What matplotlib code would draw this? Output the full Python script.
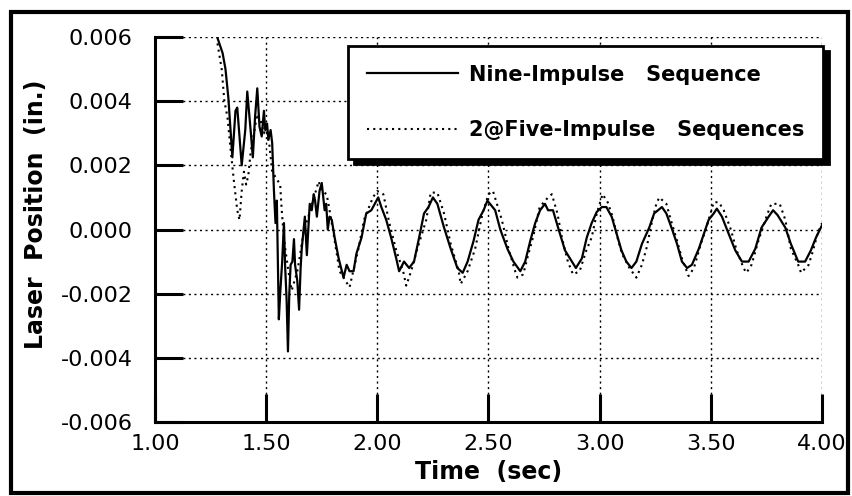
import matplotlib
matplotlib.use("Agg")
import matplotlib.pyplot as plt
from matplotlib.patches import Rectangle

plt.rcParams.update({
    "font.family": "DejaVu Sans",
    "axes.unicode_minus": False,
})

# ── Data ──
nine_t = [1.281, 1.304, 1.317, 1.330, 1.340, 1.348, 1.362, 1.370, 1.390, 1.406,
          1.415, 1.430, 1.440, 1.450, 1.460, 1.470, 1.480, 1.490, 1.496, 1.504,
          1.510, 1.520, 1.527, 1.535, 1.542, 1.548, 1.553, 1.557, 1.563, 1.572,
          1.580, 1.585, 1.592, 1.598, 1.604, 1.610, 1.618, 1.625, 1.630, 1.640,
          1.648, 1.655, 1.660, 1.674, 1.683, 1.696, 1.705, 1.714, 1.720, 1.728,
          1.740, 1.750, 1.757, 1.763, 1.770, 1.777, 1.785, 1.795, 1.808, 1.815,
          1.826, 1.848, 1.862, 1.875, 1.893, 1.906, 1.929, 1.950, 1.973, 2.004,
          2.018, 2.040, 2.062, 2.085, 2.098, 2.120, 2.143, 2.165, 2.188, 2.210,
          2.230, 2.250, 2.270, 2.300, 2.330, 2.360, 2.384, 2.406, 2.433, 2.455,
          2.478, 2.495, 2.518, 2.530, 2.553, 2.585, 2.612, 2.643, 2.665, 2.688,
          2.710, 2.732, 2.754, 2.768, 2.790, 2.813, 2.844, 2.875, 2.893, 2.920,
          2.942, 2.964, 2.987, 3.010, 3.030, 3.054, 3.076, 3.098, 3.120, 3.143,
          3.165, 3.190, 3.223, 3.245, 3.280, 3.300, 3.326, 3.348, 3.370, 3.393,
          3.415, 3.446, 3.469, 3.490, 3.513, 3.527, 3.550, 3.580, 3.610, 3.640,
          3.670, 3.700, 3.728, 3.760, 3.780, 3.800, 3.835, 3.860, 3.893, 3.924,
          3.950, 3.973, 4.000]
nine_x = [0.00597, 0.00550, 0.00500, 0.00410, 0.00310, 0.00225, 0.00370, 0.00380, 0.00200, 0.00310,
          0.00430, 0.00310, 0.00225, 0.00350, 0.00440, 0.00320, 0.00290, 0.00370, 0.00310, 0.00330,
          0.00280, 0.00310, 0.00270, 0.00120, 0.00020, 0.00090, -0.00110, -0.00280, -0.00200, -0.00100,
          0.00020, -0.00110, -0.00220, -0.00380, -0.00200, -0.00110, -0.00100, -0.00030, -0.00110, -0.00160,
          -0.00250, -0.00120, -0.00060, 0.00040, -0.00080, 0.00080, 0.00060, 0.00110, 0.00090, 0.00040,
          0.00120, 0.00145, 0.00100, 0.00060, 0.00080, 0.00000, 0.00040, 0.00030, -0.00025, -0.00050,
          -0.00090, -0.00150, -0.00110, -0.00130, -0.00130, -0.00075, -0.00025, 0.00050, 0.00060, 0.00100,
          0.00070, 0.00030, -0.00025, -0.00090, -0.00130, -0.00100, -0.00120, -0.00100, -0.00025, 0.00050,
          0.00070, 0.00100, 0.00080, 0.00006, -0.00060, -0.00120, -0.00135, -0.00100, -0.00035, 0.00030,
          0.00060, 0.00090, 0.00070, 0.00060, 0.00000, -0.00060, -0.00100, -0.00130, -0.00100, -0.00035,
          0.00020, 0.00060, 0.00080, 0.00060, 0.00060, 0.00006, -0.00065, -0.00100, -0.00120, -0.00090,
          -0.00025, 0.00020, 0.00055, 0.00070, 0.00070, 0.00040, -0.00013, -0.00065, -0.00100, -0.00120,
          -0.00100, -0.00045, 0.00006, 0.00050, 0.00070, 0.00050, 0.00000, -0.00045, -0.00100, -0.00120,
          -0.00110, -0.00060, -0.00013, 0.00030, 0.00050, 0.00065, 0.00040, -0.00013, -0.00065, -0.00100,
          -0.00100, -0.00060, 0.00006, 0.00040, 0.00060, 0.00045, 0.00006, -0.00045, -0.00100, -0.00100,
          -0.00065, -0.00025, 0.00013]

five_t = [1.281, 1.300, 1.312, 1.326, 1.340, 1.355, 1.370, 1.380, 1.390, 1.400,
          1.410, 1.420, 1.430, 1.445, 1.460, 1.475, 1.490, 1.500, 1.515, 1.527,
          1.545, 1.563, 1.570, 1.580, 1.600, 1.615, 1.640, 1.650, 1.670, 1.690,
          1.715, 1.736, 1.750, 1.772, 1.780, 1.800, 1.830, 1.875, 1.915, 1.940,
          1.980, 2.000, 2.027, 2.054, 2.085, 2.116, 2.130, 2.152, 2.180, 2.220,
          2.240, 2.270, 2.300, 2.330, 2.366, 2.375, 2.406, 2.440, 2.473, 2.500,
          2.520, 2.560, 2.590, 2.620, 2.630, 2.656, 2.680, 2.700, 2.730, 2.768,
          2.785, 2.810, 2.830, 2.857, 2.880, 2.910, 2.940, 2.964, 2.987, 3.013,
          3.036, 3.058, 3.080, 3.100, 3.134, 3.165, 3.190, 3.210, 3.237, 3.255,
          3.268, 3.300, 3.320, 3.348, 3.370, 3.400, 3.424, 3.455, 3.480, 3.513,
          3.536, 3.558, 3.590, 3.616, 3.647, 3.660, 3.683, 3.714, 3.750, 3.772,
          3.810, 3.835, 3.860, 3.893, 3.906, 3.940, 3.960, 3.980, 4.000]
five_x = [0.00580, 0.00500, 0.00400, 0.00350, 0.00250, 0.00150, 0.00060, 0.00030, 0.00120, 0.00180,
          0.00140, 0.00170, 0.00240, 0.00300, 0.00360, 0.00340, 0.00300, 0.00320, 0.00260, 0.00180,
          0.00160, 0.00140, 0.00060, -0.00030, -0.00130, -0.00190, -0.00130, -0.00090, 0.00000, 0.00040,
          0.00100, 0.00150, 0.00120, 0.00110, 0.00080, 0.00000, -0.00130, -0.00180, -0.00060, 0.00030,
          0.00100, 0.00120, 0.00110, 0.00020, -0.00065, -0.00130, -0.00175, -0.00130, -0.00060, 0.00030,
          0.00115, 0.00115, 0.00050, -0.00045, -0.00130, -0.00170, -0.00130, -0.00060, 0.00050, 0.00110,
          0.00120, 0.00030, -0.00060, -0.00130, -0.00150, -0.00140, -0.00075, -0.00025, 0.00070, 0.00100,
          0.00110, 0.00050, -0.00025, -0.00100, -0.00140, -0.00130, -0.00065, -0.00025, 0.00050, 0.00110,
          0.00085, 0.00040, -0.00025, -0.00075, -0.00120, -0.00150, -0.00110, -0.00060, 0.00030, 0.00080,
          0.00100, 0.00080, 0.00030, -0.00035, -0.00090, -0.00145, -0.00120, -0.00045, 0.00006, 0.00085,
          0.00085, 0.00060, 0.00000, -0.00065, -0.00120, -0.00135, -0.00110, -0.00035, 0.00040, 0.00080,
          0.00080, 0.00030, -0.00060, -0.00110, -0.00135, -0.00110, -0.00065, -0.00013, 0.00020]

x_ticks = [1.0, 1.5, 2.0, 2.5, 3.0, 3.5, 4.0]
x_ticklabels = ["1.00", "1.50", "2.00", "2.50", "3.00", "3.50", "4.00"]
y_ticks = [-0.006, -0.004, -0.002, 0.0, 0.002, 0.004, 0.006]
y_ticklabels = ["-0.006", "-0.004", "-0.002", "0.000", "0.002", "0.004", "0.006"]

fig = plt.figure(figsize=(8.52, 4.96), dpi=100)
fig.set_facecolor("white")
ax = fig.add_axes([155 / 852, 1 - 422 / 496, 667 / 852, 385 / 496])

ax.plot(nine_t, nine_x, color="black", lw=1.6, label="Nine-Impulse   Sequence")
ax.plot(five_t, five_x, color="black", lw=1.5, linestyle=(0, (1, 2)),
        label="2@Five-Impulse   Sequences")

ax.set_xlim(1.0, 4.0)
ax.set_ylim(-0.006, 0.006)
ax.set_xticks(x_ticks)
ax.set_xticklabels(x_ticklabels)
ax.set_yticks(y_ticks)
ax.set_yticklabels(y_ticklabels)
ax.tick_params(axis="both", direction="in", length=20, width=2.2, color="black")
ax.tick_params(axis="x", labelsize=16, pad=9)
ax.tick_params(axis="y", labelsize=16, pad=16)

ax.grid(True, color="black", linestyle=(0, (1.5, 2.5)), linewidth=1.0)
for s in ("top", "right"):
    ax.spines[s].set_visible(False)
for s in ("left", "bottom"):
    ax.spines[s].set_linewidth(2.2)

ax.set_xlabel("Time  (sec)", fontsize=17, fontweight="bold")
ax.xaxis.set_label_coords(0.5, -0.10)
ax.set_ylabel("Laser  Position  (in.)", fontsize=17, fontweight="bold")
ax.yaxis.set_label_coords(-0.16, 0.54)

leg = ax.legend(loc="upper right", bbox_to_anchor=(1.0015, 0.977), borderaxespad=0,
                prop={"size": 15, "weight": "bold"}, handlelength=4.4,
                handletextpad=0.5, borderpad=0.9, labelspacing=1.7,
                fancybox=False, framealpha=1, edgecolor="black",
                shadow={"color": "black", "alpha": 1, "ox": 4, "oy": -4})
leg.get_frame().set_linewidth(2)

# Outer frame around the whole figure
fig.patches.append(Rectangle((11 / 852, 3 / 496), 837 / 852, 481 / 496,
                             transform=fig.transFigure, fill=False,
                             edgecolor="black", linewidth=3))

fig.savefig("out.png", dpi=100)
